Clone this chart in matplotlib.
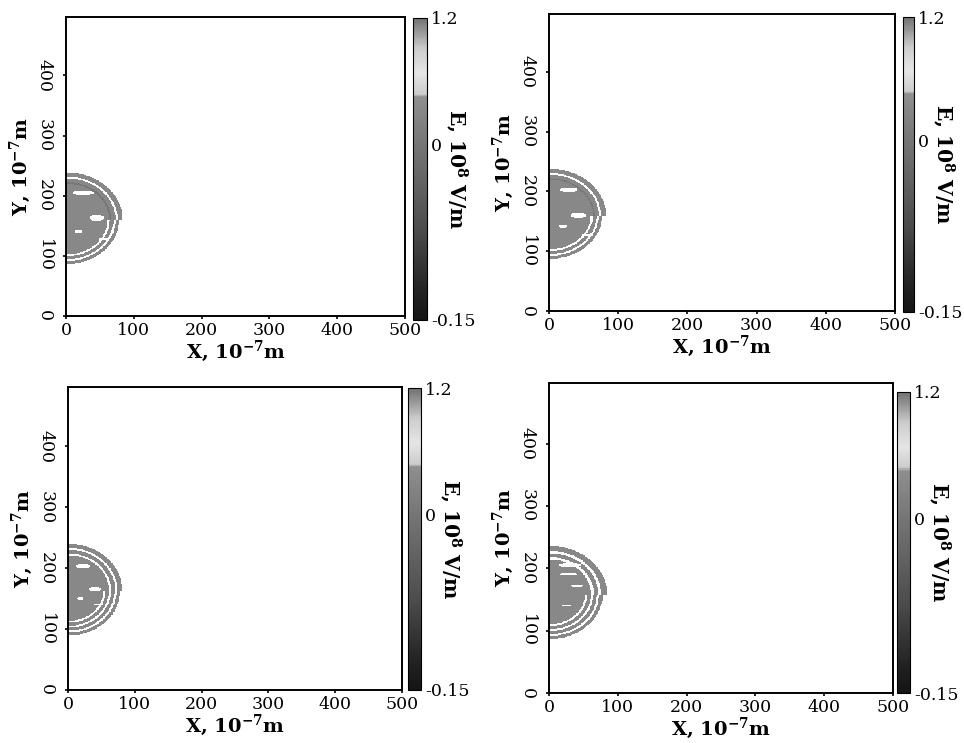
import numpy as np
import matplotlib
matplotlib.use("Agg")
import matplotlib.pyplot as plt
import matplotlib.colors as mcolors
from matplotlib.cm import ScalarMappable

plt.rcParams['font.family'] = ['DejaVu Serif']
plt.rcParams['mathtext.fontset'] = 'dejavuserif'
plt.rcParams['mathtext.default'] = 'bf'

W, H = 964, 743

# panel boxes in pixels: left, top, right, bottom ; colorbar boxes likewise
axes_px = [(66, 17, 405, 316), (549, 14, 895, 311),
           (68, 387, 402, 690), (549, 383, 893, 693)]
cbar_px = [(413, 18, 427, 320), (903, 17, 914, 312),
           (408, 388, 421, 690), (897, 392, 910, 693)]

# field values (10^8 V/m)
E_min, E_zero, E_max = -0.15, 0.0, 1.2
cb_ticks = [-0.15, 0, 1.2]
cb_ticklabels = ['-0.15', '0', '1.2']
zero_pos = 0.58          # where 0 sits on the colorbar (fraction from bottom)

# grey levels of the colorbar (position, grey)
cmap_pos = [0.0, 0.10, 0.30, 0.58, 0.74, 0.75, 0.82, 0.90, 0.96, 1.0]
cmap_grey = [0.08, 0.14, 0.30, 0.46, 0.56, 0.80, 0.90, 0.80, 0.58, 0.45]

# pulse shape per panel: centre y, radial bands (inner, outer, value)
centre_y = [160, 160, 163, 158]
x_stretch = [1.05, 1.05, 1.05, 1.08]
bands_upper = [
    [(0, 60, 0.35), (60, 63, 0.05), (63, 69, 0.35), (72, 79, 0.35)],
    [(0, 60, 0.35), (60, 62, 0.05), (62, 68, 0.35), (71, 78, 0.35)],
    [(0, 58, 0.35), (61, 67, 0.35), (70, 77, 0.35)],
    [(0, 56, 0.35), (60, 66, 0.35), (70, 78, 0.35)],
]
bands_lower = [
    [(0, 58, 0.35), (61, 66, 0.35), (69, 74, 0.35)],
    [(0, 57, 0.35), (60, 65, 0.35), (68, 73, 0.35)],
    [(0, 50, 0.35), (53, 58, 0.35), (61, 66, 0.35), (69, 74, 0.35)],
    [(0, 48, 0.35), (51, 56, 0.35), (59, 64, 0.35), (67, 72, 0.35)],
]
# white holes inside the core: x, y, half-width, half-height
holes = [
    [(25, 205, 16, 4), (45, 163, 11, 5), (18, 140, 6, 3), (55, 128, 9, 2)],
    [(28, 203, 13, 4), (42, 160, 11, 5), (20, 142, 6, 3), (55, 127, 9, 2)],
    [(22, 203, 11, 4), (40, 165, 9, 4), (18, 150, 5, 3), (45, 140, 7, 2)],
    [(30, 205, 16, 4), (28, 190, 13, 2), (40, 172, 9, 2), (25, 140, 7, 2)],
]

xs = np.linspace(0, 500, 501)
ys = np.linspace(0, 500, 501)
X, Y = np.meshgrid(xs, ys)

cmap = mcolors.LinearSegmentedColormap.from_list(
    'eg', [(p, (g, g, g)) for p, g in zip(cmap_pos, cmap_grey)])
cmap.set_bad('white')
norm = mcolors.FuncNorm(
    (lambda v: np.interp(v, [E_min, E_zero, E_max], [0, zero_pos, 1]),
     lambda u: np.interp(u, [0, zero_pos, 1], [E_min, E_zero, E_max])),
    vmin=E_min, vmax=E_max)

fig = plt.figure(figsize=(W / 100, H / 100), dpi=100)


def box(p):
    l, t, r, b = p
    return [l / W, 1 - b / H, (r - l) / W, (b - t) / H]


for i in range(4):
    ax = fig.add_axes(box(axes_px[i]))
    yc = centre_y[i]
    R = np.sqrt((X / x_stretch[i]) ** 2 + (Y - yc) ** 2)
    field = np.full(X.shape, np.nan)
    up = Y >= yc
    for r0, r1, v in bands_upper[i]:
        field[up & (R >= r0) & (R < r1)] = v
    for r0, r1, v in bands_lower[i]:
        field[~up & (R >= r0) & (R < r1)] = v
    for hx, hy, hw, hh in holes[i]:
        field[((X - hx) / hw) ** 2 + ((Y - hy) / hh) ** 2 < 1] = np.nan
    ax.imshow(np.ma.masked_invalid(field), origin='lower', extent=[0, 500, 0, 500],
              cmap=cmap, norm=norm, interpolation='nearest', aspect='auto')
    ax.set_xlim(0, 500)
    ax.set_ylim(0, 497)
    ax.set_xticks([0, 100, 200, 300, 400, 500])
    ax.set_yticks([0, 100, 200, 300, 400])
    ax.tick_params(direction='out', length=2.5, width=1.2, labelsize=12.5, pad=2)
    ax.tick_params(axis='y', pad=7)
    for lbl in ax.get_yticklabels():
        lbl.set_rotation(-90)
        lbl.set_va('center')
    for s in ax.spines.values():
        s.set_linewidth(1.4)
    ax.set_xlabel(r'X, 10$^{-7}$m', fontsize=14, fontweight='bold', labelpad=0)
    ax.set_ylabel(r'Y, 10$^{-7}$m', fontsize=14, fontweight='bold', labelpad=2)

    cax = fig.add_axes(box(cbar_px[i]))
    sm = ScalarMappable(norm=norm, cmap=cmap)
    cb = fig.colorbar(sm, cax=cax)
    cb.set_ticks(cb_ticks)
    cb.set_ticklabels(cb_ticklabels)
    cb.outline.set_linewidth(0.8)
    cax.tick_params(length=0, labelsize=12.5, pad=3)
    l, t, r, b = cbar_px[i]
    fig.text((r + 29) / W, 1 - (t + b) / 2 / H, r'E, 10$^{8}$ V/m', rotation=-90,
             ha='center', va='center', fontsize=14.5, fontweight='bold')

fig.savefig('out.png', dpi=100)
